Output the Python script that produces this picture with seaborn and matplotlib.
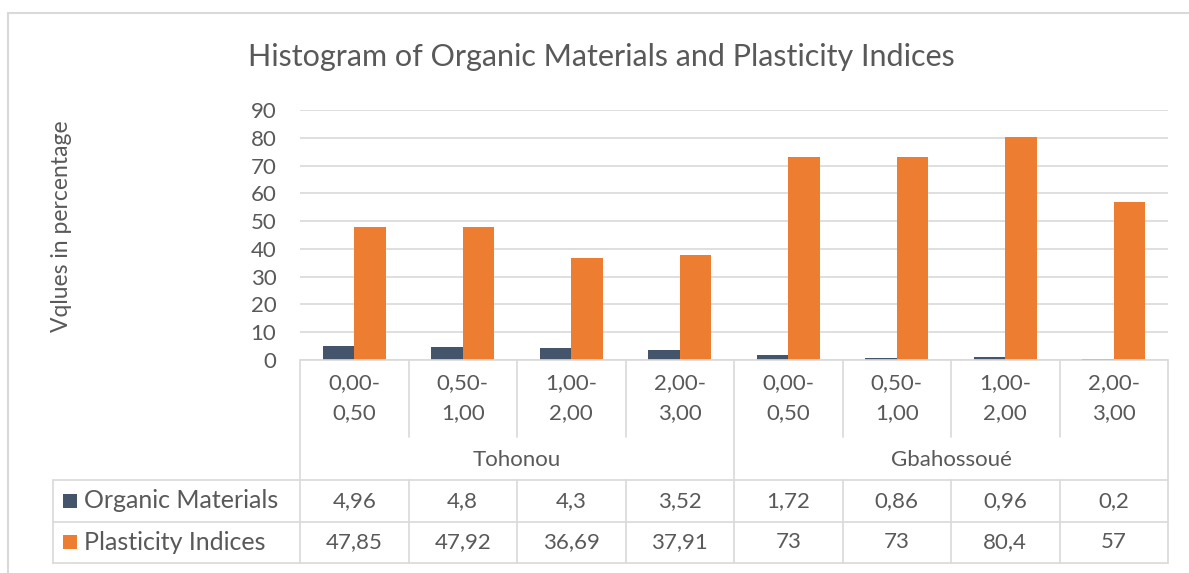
import matplotlib
matplotlib.use("Agg")
import matplotlib.pyplot as plt
import matplotlib.transforms as mtransforms
from matplotlib.lines import Line2D
from matplotlib.patches import Rectangle
import pandas as pd
import seaborn as sns

# ---- data -------------------------------------------------------------
sites = ["Tohonou", "Gbahossoué"]
depths = ["0,00-\n0,50", "0,50-\n1,00", "1,00-\n2,00", "2,00-\n3,00"]
organic_materials = [4.96, 4.8, 4.3, 3.52, 1.72, 0.86, 0.96, 0.2]
plasticity_indices = [47.85, 47.92, 36.69, 37.91, 73, 73, 80.4, 57]
series_names = ["Organic Materials", "Plasticity Indices"]
y_ticks = [0, 10, 20, 30, 40, 50, 60, 70, 80, 90]

slots = [f"{s}|{d}" for s in sites for d in depths]
df = pd.DataFrame({
    "slot": slots * 2,
    "series": [series_names[0]] * len(slots) + [series_names[1]] * len(slots),
    "value": organic_materials + plasticity_indices,
})

# ---- style ------------------------------------------------------------
sns.set_theme(style="white")
plt.rcParams["font.family"] = ["Lato", "DejaVu Sans"]
TXT = "#595959"
GRID = "#D9D9D9"
colors = ["#44546A", "#ED7D31"]
FS = 16          # tick / table text
FS_KEY = 18      # legend keys in the table
FS_TITLE = 22

W, H = 1189, 573
fig = plt.figure(figsize=(W / 100, H / 100), dpi=100)
fig.patch.set_facecolor("white")


def fy(ypix):
    return 1 - ypix / H


def fx(xpix):
    return xpix / W


ax = fig.add_axes([fx(300), fy(360), fx(1168) - fx(300), fy(110) - fy(360)])
sns.barplot(data=df, x="slot", y="value", hue="series", order=slots,
            hue_order=series_names, palette=colors, width=0.58,
            saturation=1, legend=False, ax=ax, linewidth=0)
ax.set_xlim(-0.5, len(slots) - 0.5)
ax.set_ylim(0, 90)
ax.set_yticks(y_ticks)
ax.set_yticklabels([str(t) for t in y_ticks], fontsize=FS, color=TXT)
ax.tick_params(axis="y", length=0, pad=17)
ax.set_xticks([])
ax.set_xlabel("")
ax.set_ylabel("")
for sp in ax.spines.values():
    sp.set_visible(False)
ax.yaxis.grid(True, color=GRID, linewidth=1.2)
ax.set_axisbelow(True)

# x in data units, y in figure fraction
tr = mtransforms.blended_transform_factory(ax.transData, fig.transFigure)


def vline_data(xd, y0, y1):
    fig.add_artist(Line2D([xd, xd], [fy(y0), fy(y1)], transform=tr,
                          color=GRID, linewidth=1.2))


# outer chart frame
fig.add_artist(Line2D([fx(8), fx(8)], [fy(13), 0], transform=fig.transFigure,
                      color=GRID, linewidth=1.5))
fig.add_artist(Line2D([fx(8), 1], [fy(13), fy(13)], transform=fig.transFigure,
                      color=GRID, linewidth=1.5))

# title and axis label
fig.text(fx(601), fy(57), "Histogram of Organic Materials and Plasticity Indices",
         ha="center", va="center", fontsize=FS_TITLE, color=TXT)
fig.text(fx(62), fy(226), "Vqlues in percentage", rotation=90,
         ha="center", va="center", fontsize=16.5, color=TXT)

# category axis line and data-table grid
n = len(slots)
fig.add_artist(Line2D([-0.5, n - 0.5], [fy(360), fy(360)], transform=tr,
                      color=GRID, linewidth=1.2))
for ypix in (480, 522, 563):
    fig.add_artist(Line2D([fx(53), fx(1168)], [fy(ypix), fy(ypix)],
                          transform=fig.transFigure, color=GRID, linewidth=1.2))
fig.add_artist(Line2D([fx(53), fx(53)], [fy(480), fy(563)],
                      transform=fig.transFigure, color=GRID, linewidth=1.2))
per_site = len(depths)
for k in range(n + 1):
    xb = k - 0.5
    if k % per_site == 0:
        vline_data(xb, 360, 563)
    else:
        vline_data(xb, 360, 437)
        vline_data(xb, 480, 563)

# category labels
for i, slot in enumerate(slots):
    top, bottom = slot.split("|")[1].split("\n")
    fig.text(i, fy(383), top, transform=tr, ha="center", va="center", fontsize=FS, color=TXT)
    fig.text(i, fy(413), bottom, transform=tr, ha="center", va="center", fontsize=FS, color=TXT)
for j, site in enumerate(sites):
    xc = j * per_site + (per_site - 1) / 2
    fig.text(xc, fy(460), site, transform=tr, ha="center", va="center", fontsize=FS, color=TXT)


def fmt(v):
    return f"{v:g}".replace(".", ",")


# data table rows with legend keys
row_y = [501, 542]
for r, (name, vals) in enumerate(zip(series_names, [organic_materials, plasticity_indices])):
    fig.add_artist(Rectangle((fx(63), fy(row_y[r] + 7)), fx(14), 14 / H,
                             transform=fig.transFigure, facecolor=colors[r], edgecolor="none"))
    fig.text(fx(84), fy(row_y[r]), name, ha="left", va="center", fontsize=FS_KEY, color=TXT)
    for i, v in enumerate(vals):
        fig.text(i, fy(row_y[r]), fmt(v), transform=tr, ha="center", va="center",
                 fontsize=FS, color=TXT)

fig.savefig("out.png", dpi=100, facecolor="white")
